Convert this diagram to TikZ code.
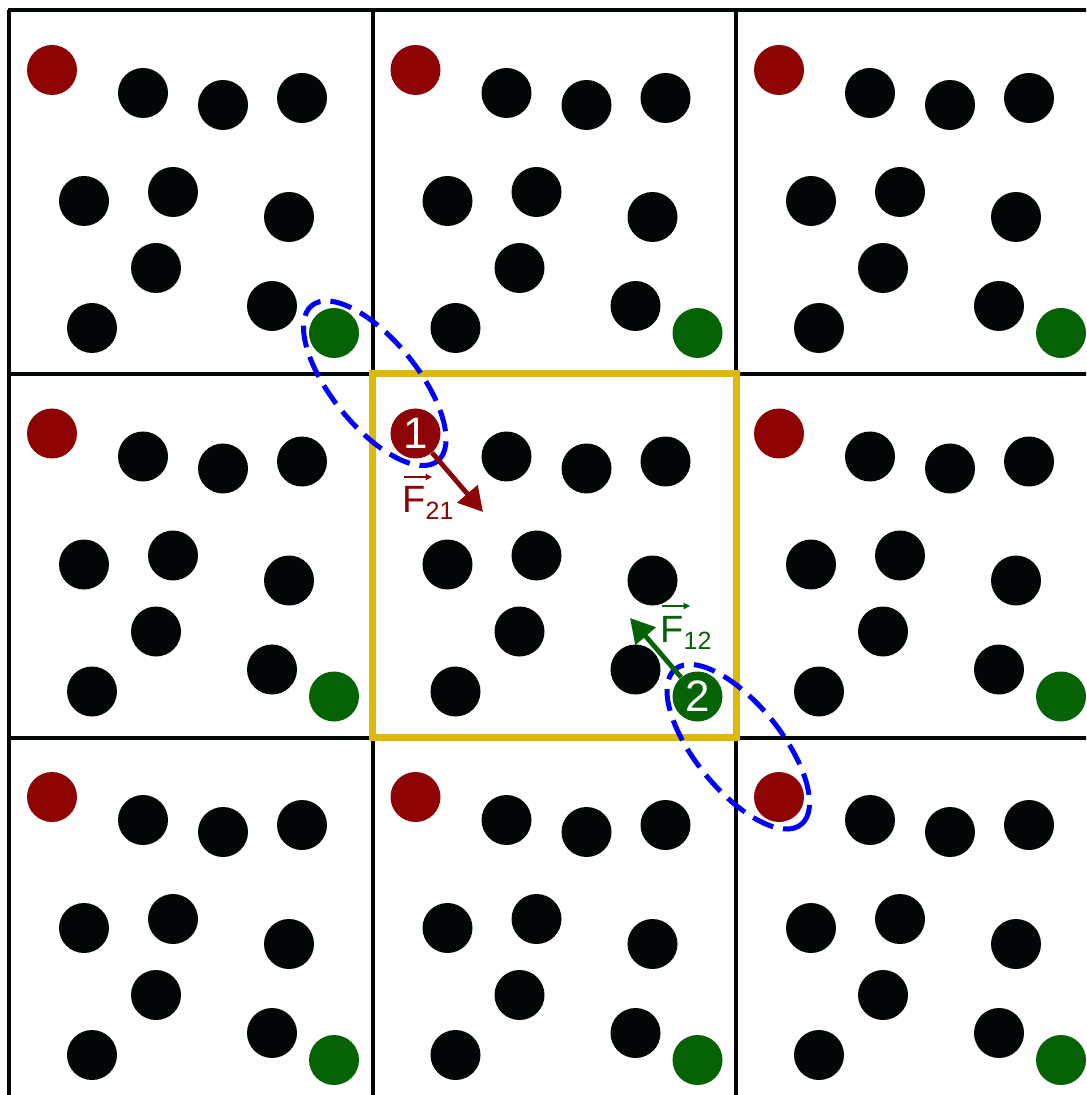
\documentclass[tikz,border=0pt]{standalone}
\usepackage{fontspec}
\setmainfont{Liberation Sans}
\usetikzlibrary{arrows.meta}
\definecolor{pred}{HTML}{8E0404}
\definecolor{pgreen}{HTML}{056305}
\definecolor{pblack}{HTML}{020606}
\definecolor{gold}{HTML}{DDB90A}
\definecolor{eblue}{HTML}{0000FF}
\newcommand\Flabel[1]{{\fontsize{19}{19}\selectfont F}\raisebox{-3.6pt}{\fontsize{12.5}{12.5}\selectfont #1}}
\begin{document}
\begin{tikzpicture}[x=0.5pt,y=-0.5pt,
  part/.style={circle,inner sep=0pt,minimum size=25pt,draw=none},
  blackp/.style={part,fill=pblack},
  redp/.style={part,fill=pred},
  greenp/.style={part,fill=pgreen},
  gridline/.style={line width=2pt,draw=pblack},
  cellbox/.style={line width=3.5pt,draw=gold},
  pair/.style={draw=eblue,line width=2.5pt,dash pattern=on 11pt off 5pt},
  force/.style={line width=2.4pt,-{Triangle[length=12pt,width=13pt]}},
  vecarrow/.style={line width=0.6pt,-{Triangle[length=3.2pt,width=3.2pt]}},
  numlabel/.style={text=white,font=\fontsize{22}{22}\selectfont},
  flabel/.style={anchor=base west,inner sep=0pt}]
\useasboundingbox (0,0) rectangle (1086,1095);
\clip (0,0) rectangle (1086,1095);
% periodic cell grid
\foreach \x in {9,372.5,736} \draw[gridline] (\x,10.5) -- (\x,1100);
\foreach \y in {10.5,374,737.5} \draw[gridline] (8,\y) -- (1100,\y);
% central simulation box
\draw[cellbox] (372.5,374) rectangle (736,737.5);
% particles in all images
\foreach \i in {0,1,2}{
  \foreach \j in {0,1,2}{
    \begin{scope}[shift={(363.5*\i,363.5*\j)}]
      \foreach \px/\py [count=\k] in {143/93,223/105,302/98,84/201,173/192,289/217,156/268,272/306,92/328}
        \node[blackp] (b\i\j-\k) at (\px,\py) {};
      \ifnum\i\j=11\relax\else
        \node[redp] (r\i\j) at (52,70) {};
        \node[greenp] (g\i\j) at (334,333) {};
      \fi
    \end{scope}
  }
}
% labelled particles in the central box
\node[redp,numlabel] (p1) at (415.5,433.5) {1};
\node[greenp,numlabel] (p2) at (697.5,696.5) {2};
% interacting pairs (minimum image)
\coordinate (e1) at (374.75,383.25);
\coordinate (e2) at (738.25,746.75);
\draw[pair,rotate around={-51:(e1)}] (e1) ellipse [x radius=50pt,y radius=21.5pt];
\draw[pair,rotate around={-51:(e2)}] (e2) ellipse [x radius=50pt,y radius=21.5pt];
% forces
\coordinate (t21) at (483,512);
\coordinate (t12) at (630,618);
\draw[force,draw=pred,fill=pred] (p1) -- (t21);
\draw[force,draw=pgreen,fill=pgreen] (p2) -- (t12);
\node[flabel,text=pred] (f21) at (402,512) {\Flabel{21}};
\node[flabel,text=pgreen] (f12) at (660,642) {\Flabel{12}};
% vector arrows over F
\coordinate (v21a) at (404,477);
\coordinate (v21b) at (432,477);
\coordinate (v12a) at (662,606);
\coordinate (v12b) at (690,606);
\draw[vecarrow,draw=pred,fill=pred] (v21a) -- (v21b);
\draw[vecarrow,draw=pgreen,fill=pgreen] (v12a) -- (v12b);
\end{tikzpicture}
\end{document}
